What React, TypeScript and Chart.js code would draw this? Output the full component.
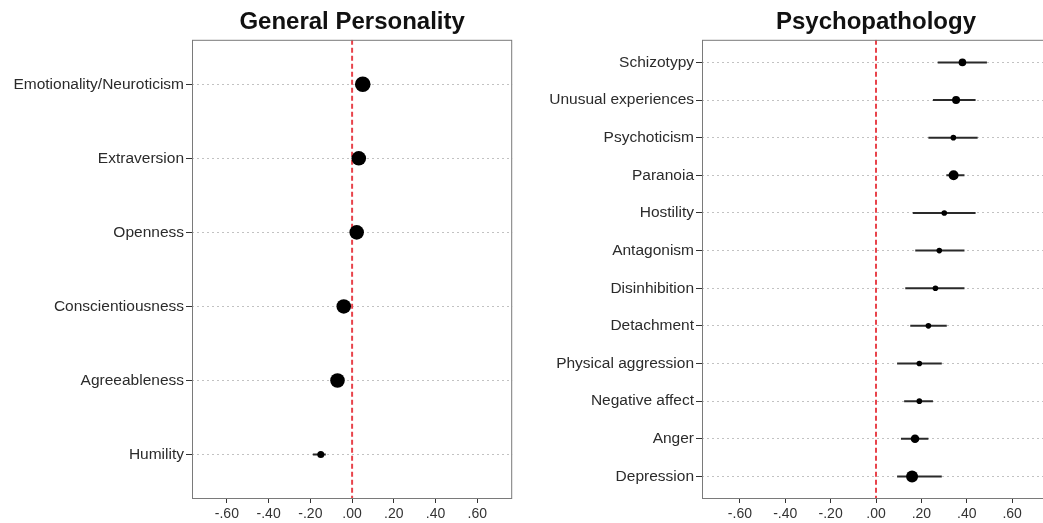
import React, { useEffect, useRef } from 'react';
import { Chart, registerables } from 'chart.js';

Chart.register(...registerables);

const personalityLabels = ['Emotionality/Neuroticism', 'Extraversion', 'Openness', 'Conscientiousness', 'Agreeableness', 'Humility'];
const personalityEstimates = [0.051, 0.032, 0.022, -0.04, -0.07, -0.15];
const personalityLower = [0.036, 0.018, 0.008, -0.054, -0.085, -0.188];
const personalityUpper = [0.066, 0.046, 0.036, -0.026, -0.055, -0.126];
const personalitySizes = [7.8, 7.3, 7.3, 7.3, 7.3, 3.5];

const psychoLabels = ['Schizotypy', 'Unusual experiences', 'Psychoticism', 'Paranoia', 'Hostility', 'Antagonism', 'Disinhibition', 'Detachment', 'Physical aggression', 'Negative affect', 'Anger', 'Depression'];
const psychoEstimates = [0.381, 0.353, 0.341, 0.342, 0.301, 0.279, 0.262, 0.231, 0.191, 0.191, 0.172, 0.159];
const psychoLower = [0.272, 0.251, 0.231, 0.31, 0.162, 0.173, 0.129, 0.151, 0.093, 0.124, 0.11, 0.093];
const psychoUpper = [0.489, 0.439, 0.448, 0.39, 0.439, 0.39, 0.39, 0.312, 0.29, 0.251, 0.231, 0.29];
const psychoSizes = [3.8, 4, 2.8, 5, 2.8, 2.8, 2.8, 2.8, 2.8, 2.8, 4.3, 6];

const xTicks = [-0.6, -0.4, -0.2, 0, 0.2, 0.4, 0.6];
const X_RANGE = 0.767;
const FONT = "'Liberation Sans', Arial, Helvetica, sans-serif";

const fmt = (v: number) => {
  const s = Math.abs(v).toFixed(2).replace(/^0/, '');
  return (v < -1e-9 ? '-' : '') + s;
};

const framePlugin = {
  id: 'frame',
  afterDraw(chart: any) {
    const { ctx, chartArea: a } = chart;
    ctx.save();
    ctx.strokeStyle = '#7a7a7a';
    ctx.lineWidth = 1;
    ctx.strokeRect(a.left + 0.5, a.top + 0.5, a.right - a.left - 1, a.bottom - a.top - 1);
    ctx.restore();
  },
};

type PanelProps = {
  title: string;
  labels: string[];
  est: number[];
  lo: number[];
  hi: number[];
  sizes: number[];
  left: number;
  width: number;
  yAxisWidth: number;
  padRight: number;
};

function ForestPanel({ title, labels, est, lo, hi, sizes, left, width, yAxisWidth, padRight }: PanelProps) {
  const ref = useRef<HTMLCanvasElement>(null);
  useEffect(() => {
    if (!ref.current) return;
    const n = labels.length;
    const ciDatasets = labels.map((_, i) => ({
      data: [{ x: lo[i], y: i }, { x: hi[i], y: i }],
      showLine: true,
      borderColor: '#2a2a2a',
      borderWidth: 2,
      pointRadius: 0,
      pointHoverRadius: 0,
    }));
    const chart = new Chart(ref.current, {
      type: 'scatter',
      data: {
        datasets: [
          {
            data: est.map((v, i) => ({ x: v, y: i })),
            pointRadius: sizes,
            pointHoverRadius: sizes,
            backgroundColor: '#000',
            borderColor: '#000',
            borderWidth: 0,
          },
          ...ciDatasets,
          {
            data: [{ x: 0, y: -0.6 }, { x: 0, y: n - 0.4 }],
            showLine: true,
            borderColor: '#e8434b',
            borderWidth: 2,
            borderDash: [5, 3],
            pointRadius: 0,
            pointHoverRadius: 0,
          },
        ] as any,
      },
      options: {
        animation: false,
        responsive: false,
        events: [],
        layout: { padding: { left: 0, right: padRight, top: 0, bottom: 0 } },
        plugins: {
          legend: { display: false },
          tooltip: { enabled: false },
          title: {
            display: true,
            text: title,
            fullSize: false,
            color: '#111',
            font: { family: FONT, size: 24, weight: 'bold' },
            padding: { top: 8, bottom: 3 },
          },
        },
        scales: {
          x: {
            type: 'linear',
            min: -X_RANGE,
            max: X_RANGE,
            afterBuildTicks: (s: any) => {
              s.ticks = xTicks.map((v) => ({ value: v }));
            },
            afterFit: (s: any) => {
              s.height = 24;
            },
            ticks: {
              callback: (v: any) => fmt(Number(v)),
              color: '#333',
              font: { family: FONT, size: 14 },
              padding: 3,
              maxRotation: 0,
              autoSkip: false,
            },
            grid: {
              drawOnChartArea: false,
              drawTicks: true,
              tickLength: 4,
              tickColor: '#333',
              color: '#333',
            },
            border: { display: false },
          },
          y: {
            type: 'linear',
            reverse: true,
            min: -0.6,
            max: n - 0.4,
            afterBuildTicks: (s: any) => {
              s.ticks = labels.map((_, i) => ({ value: i }));
            },
            afterFit: (s: any) => {
              s.width = yAxisWidth;
            },
            ticks: {
              callback: (v: any) => labels[Math.round(Number(v))] ?? '',
              color: '#2b2b2b',
              font: { family: FONT, size: 15.5 },
              padding: 2,
              autoSkip: false,
            },
            grid: {
              color: '#c2c2c2',
              lineWidth: 1,
              drawTicks: true,
              tickLength: 6,
              tickColor: '#333',
              tickWidth: 1,
              tickBorderDash: [],
            },
            border: { display: false, dash: [2, 3] },
          },
        },
      } as any,
      plugins: [framePlugin],
    });
    return () => chart.destroy();
  }, []);
  return (
    <canvas
      ref={ref}
      width={width}
      height={523}
      style={{ position: 'absolute', left, top: 0, width, height: 523 }}
    />
  );
}

export default function App() {
  return (
    <div
      style={{
        position: 'fixed',
        left: 0,
        top: 0,
        width: 1043,
        height: 523,
        overflow: 'hidden',
        background: '#fff',
      }}
    >
      <ForestPanel
        title="General Personality"
        labels={personalityLabels}
        est={personalityEstimates}
        lo={personalityLower}
        hi={personalityUpper}
        sizes={personalitySizes}
        left={0}
        width={520}
        yAxisWidth={192}
        padRight={7}
      />
      <ForestPanel
        title="Psychopathology"
        labels={psychoLabels}
        est={psychoEstimates}
        lo={psychoLower}
        hi={psychoUpper}
        sizes={psychoSizes}
        left={520}
        width={540}
        yAxisWidth={182}
        padRight={10}
      />
    </div>
  );
}
